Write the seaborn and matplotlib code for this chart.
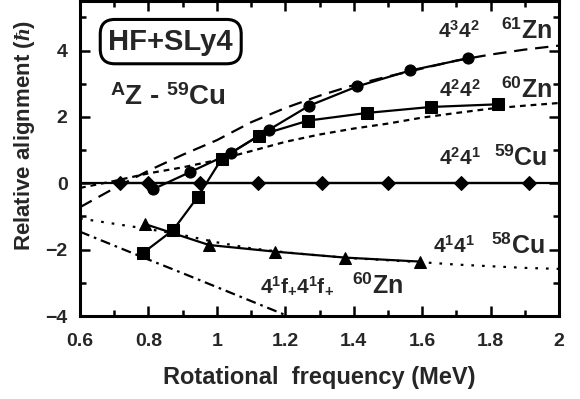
import numpy as np
import pandas as pd
import matplotlib
matplotlib.use("Agg")
import matplotlib.pyplot as plt
import seaborn as sns

# Experimental relative alignments (markers joined by solid lines)
zn61_x = [0.813, 0.922, 1.04, 1.153, 1.27, 1.41, 1.565, 1.735]
zn61_y = [-0.18, 0.34, 0.91, 1.62, 2.34, 2.92, 3.40, 3.77]

zn60_x = [0.784, 0.872, 0.944, 1.014, 1.123, 1.267, 1.438, 1.625, 1.82]
zn60_y = [-2.10, -1.41, -0.41, 0.74, 1.44, 1.89, 2.12, 2.30, 2.38]

cu59_x = [0.717, 0.80, 0.95, 1.12, 1.307, 1.50, 1.714, 1.913]
cu59_y = [0.0, 0.0, 0.0, 0.0, 0.0, 0.0, 0.0, 0.0]

cu58_x = [0.79, 0.977, 1.17, 1.375, 1.594]
cu58_y = [-1.23, -1.86, -2.06, -2.24, -2.36]

# HF+SLy4 calculated curves
calc_x = [0.6, 0.7, 0.8, 0.9, 1.0, 1.1, 1.2, 1.3, 1.4, 1.5, 1.6, 1.7, 1.8, 1.9, 2.0]
calc_zn61 = [-0.72, -0.15, 0.38, 0.86, 1.30, 1.84, 2.27, 2.64, 2.96, 3.22, 3.46, 3.70, 3.88, 4.03, 4.15]
calc_zn60 = [-0.14, 0.07, 0.30, 0.48, 0.70, 0.97, 1.25, 1.47, 1.65, 1.80, 1.98, 2.12, 2.25, 2.34, 2.42]
calc_cu58 = [-1.06, -1.22, -1.38, -1.56, -1.78, -1.96, -2.08, -2.18, -2.26, -2.32, -2.38, -2.45, -2.50, -2.55, -2.58]
calc_fx = [0.6, 0.7, 0.8, 0.9, 1.0, 1.1, 1.2, 1.3]
calc_zn60f = [-1.46, -1.88, -2.30, -2.71, -3.13, -3.55, -3.97, -4.40]

x_ticks = [0.6, 0.8, 1.0, 1.2, 1.4, 1.6, 1.8, 2.0]
x_ticklabels = ["0.6", "0.8", "1", "1.2", "1.4", "1.6", "1.8", "2"]
y_ticks = [-4, -2, 0, 2, 4]

sns.set_theme(style="ticks")
plt.rcParams["font.family"] = ["Liberation Sans", "DejaVu Sans"]
plt.rcParams["font.weight"] = "bold"
plt.rcParams["mathtext.fontset"] = "custom"
plt.rcParams["mathtext.rm"] = "Liberation Sans:bold"
plt.rcParams["mathtext.it"] = "Liberation Serif:italic"
plt.rcParams["mathtext.bf"] = "Liberation Sans:bold"

fig = plt.figure(figsize=(5.8, 3.99), dpi=100)
ax = fig.add_axes([0.138, 0.208, 0.826, 0.79])

k = "black"
ax.axhline(0, color=k, lw=1.6, zorder=1)

# calculated curves
sns.lineplot(x=calc_x, y=calc_zn61, ax=ax, color=k, lw=1.6,
             linestyle=(0, (6, 3.5)), errorbar=None)
sns.lineplot(x=calc_x, y=calc_zn60, ax=ax, color=k, lw=1.6,
             linestyle=(0, (2.6, 2.2)), errorbar=None)
sns.lineplot(x=calc_x, y=calc_cu58, ax=ax, color=k, lw=1.6,
             linestyle=(0, (1.2, 3.6)), errorbar=None)
sns.lineplot(x=calc_fx, y=calc_zn60f, ax=ax, color=k, lw=1.6,
             linestyle=(0, (4.5, 2.2, 1.2, 2.2)), errorbar=None)

# experimental points
sns.lineplot(x=cu59_x, y=cu59_y, ax=ax, color=k, lw=1.6, marker="D",
             markersize=7, markeredgecolor=k, errorbar=None, zorder=3)
sns.lineplot(x=zn61_x, y=zn61_y, ax=ax, color=k, lw=1.6, marker="o",
             markersize=8, markeredgecolor=k, errorbar=None, zorder=4)
sns.lineplot(x=zn60_x, y=zn60_y, ax=ax, color=k, lw=1.6, marker="s",
             markersize=8.5, markeredgecolor=k, errorbar=None, zorder=4)
sns.lineplot(x=cu58_x, y=cu58_y, ax=ax, color=k, lw=1.6, marker="^",
             markersize=8, markeredgecolor=k, errorbar=None, zorder=4)

ax.set_xlim(0.6, 2.0)
ax.set_ylim(-4, 5.5)
ax.set_xticks(x_ticks)
ax.set_xticklabels(x_ticklabels)
ax.set_yticks(y_ticks)
ax.set_xticks(np.arange(0.7, 2.0, 0.2), minor=True)
ax.set_yticks([-3, -1, 1, 3, 5], minor=True)
ax.tick_params(which="both", direction="in", top=True, right=True,
               width=1.8, color=k)
ax.tick_params(which="major", length=7, labelsize=14, pad=9)
ax.tick_params(which="minor", length=4)
ax.tick_params(axis="x", which="major", pad=12)
for lab in ax.get_xticklabels() + ax.get_yticklabels():
    lab.set_fontweight("bold")
for sp in ax.spines.values():
    sp.set_linewidth(2.2)
    sp.set_color(k)

ax.set_xlabel("Rotational  frequency (MeV)", fontsize=17, fontweight="bold")
ax.set_ylabel(r"Relative alignment ($\hbar$)", fontsize=16, fontweight="bold")
ax.xaxis.set_label_coords(0.5, -0.158)
ax.yaxis.set_label_coords(-0.09, 0.573)

ax.text(0.865, 4.27, "HF+SLy4", fontsize=21, fontweight="bold", ha="center",
        va="center",
        bbox=dict(boxstyle="round,pad=0.28,rounding_size=0.5", fc="white",
                  ec=k, lw=2.2))
ax.text(0.688, 2.37, r"$^{\mathrm{A}}$Z - $^{59}$Cu", fontsize=20,
        va="baseline")

lab_kw = dict(fontsize=15, va="baseline")
nuc_kw = dict(fontsize=18, va="baseline")
ax.text(1.647, 4.39, r"$4^{3}4^{2}$", **lab_kw)
ax.text(1.83, 4.39, r"$^{61}$Zn", **nuc_kw)
ax.text(1.65, 2.60, r"$4^{2}4^{2}$", **lab_kw)
ax.text(1.83, 2.60, r"$^{60}$Zn", **nuc_kw)
ax.text(1.65, 0.55, r"$4^{2}4^{1}$", **lab_kw)
ax.text(1.81, 0.55, r"$^{59}$Cu", **nuc_kw)
ax.text(1.63, -2.10, r"$4^{1}4^{1}$", **lab_kw)
ax.text(1.80, -2.10, r"$^{58}$Cu", **nuc_kw)
ax.text(1.126, -3.30, r"$4^{1}\mathrm{f}_{+}4^{1}\mathrm{f}_{+}$", **lab_kw)
ax.text(1.395, -3.30, r"$^{60}$Zn", **nuc_kw)

fig.savefig("out.png", dpi=100)
